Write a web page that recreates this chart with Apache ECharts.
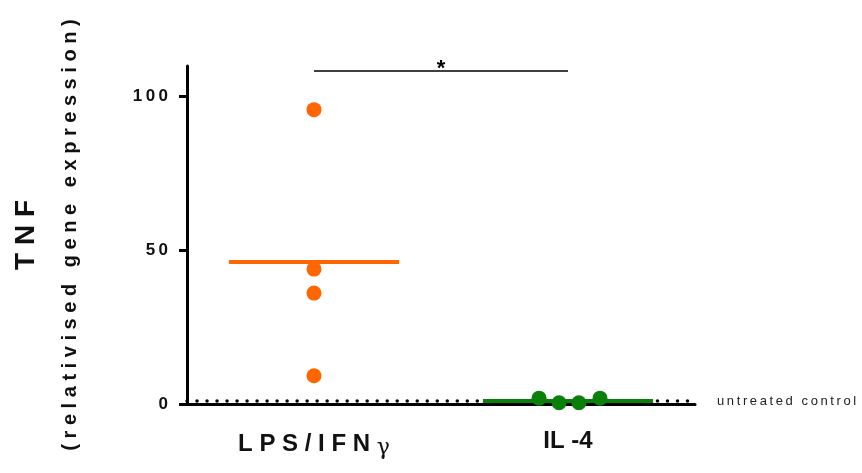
<!DOCTYPE html>
<html>
<head>
<meta charset="utf-8">
<script src="https://cdn.jsdelivr.net/npm/echarts@6/dist/echarts.min.js"></script>
<style>html,body{margin:0;padding:0;background:#fff}#c{width:862px;height:473px}</style>
</head>
<body>
<div id="c"></div>
<script>
var categories = ['LPS/IFN\u03b3', 'IL-4'];
var lpsValues = [95.8, 43.9, 36.1, 9.2];
var lpsJitter = [0, 0, 0, 0];
var il4Values = [1.9, 0.4, 0.4, 1.9];
var il4Jitter = [-0.114, -0.035, 0.043, 0.126];
var yTicks = [0, 50, 100];
var controlLevel = 1;
var sigLevel = 108.5;
var sigText = '*';
var controlText = 'untreated control';
var yTitle = 'TNF';
var ySubtitle = '(relativised gene expression)';

function mean(a){ return a.reduce(function(s,v){return s+v;},0)/a.length; }
function pts(vals, jit, idx){ return vals.map(function(v,i){ return [idx + jit[i], v]; }); }
// letter-spaced rendering of a string (sep between characters)
function spaced(s, sep){ return s.split('').join(sep); }
var THIN = '\u2009';

var FONT = 'Liberation Sans, Arial, sans-serif';
var half = 0.335;
var chart = echarts.init(document.getElementById('c'));
chart.setOption({
  animation: false,
  grid: { left: 187, right: 167, top: 66, bottom: 69 },
  xAxis: [
    { type: 'category', data: categories, position: 'bottom',
      axisLine: { lineStyle: { color: '#000', width: 3 } },
      axisTick: { show: false },
      axisLabel: { margin: 25, fontFamily: FONT, fontSize: 24, fontWeight: 'bold', color: '#111',
        formatter: function (v) {
          if (v.indexOf('\u03b3') >= 0) {
            return spaced(v.replace('\u03b3', ''), ' ') + ' {g|\u03b3}';
          }
          return v.replace('-', ' -');
        },
        rich: { g: { fontFamily: 'DejaVu Serif, serif', fontSize: 22, fontWeight: 'normal', color: '#111', padding: [8, 0, 0, 0] } } } },
    { type: 'value', min: -0.5, max: 1.5, show: false }
  ],
  yAxis: {
    type: 'value', min: 0, max: 110,
    axisLine: { show: true, onZero: false, lineStyle: { color: '#000', width: 3 } },
    axisTick: { show: true, length: 8, lineStyle: { color: '#000', width: 3 }, customValues: yTicks },
    axisLabel: { margin: 19, padding: [4, 0, 0, 0], fontFamily: FONT, fontSize: 17, fontWeight: 'bold', color: '#111', customValues: yTicks,
      formatter: function (v) { return spaced(String(v), THIN); } },
    splitLine: { show: false },
    name: '{a|' + spaced(yTitle, ' ') + '}\n{b|' + spaced(ySubtitle, ' ') + '}',
    nameLocation: 'middle', nameRotate: 90, nameGap: 99,
    nameTextStyle: { fontFamily: FONT, color: '#111',
      rich: { a: { fontSize: 28, fontWeight: 'bold', lineHeight: 52, fontFamily: FONT, color: '#111' },
              b: { fontSize: 20, fontWeight: 'bold', lineHeight: 36, fontFamily: FONT, color: '#111' } } }
  },
  series: [
    { type: 'scatter', xAxisIndex: 1, data: pts(il4Values, il4Jitter, 1), symbolSize: 15,
      itemStyle: { color: '#0a800a', opacity: 1 }, z: 6,
      markLine: { symbol: 'none', silent: true, z: 4,
        lineStyle: { color: '#0a800a', width: 4, type: 'solid' }, label: { show: false },
        data: [[{ coord: [1 - half, mean(il4Values)] }, { coord: [1 + half, mean(il4Values)] }]] } },
    { type: 'scatter', xAxisIndex: 1, data: pts(lpsValues, lpsJitter, 0), symbolSize: 15,
      itemStyle: { color: '#ff6600', opacity: 1 }, z: 6,
      markLine: { symbol: 'none', silent: true, z: 4,
        lineStyle: { color: '#ff6600', width: 4, type: 'solid' }, label: { show: false },
        data: [[{ coord: [0 - half, mean(lpsValues)] }, { coord: [0 + half, mean(lpsValues)] }]] } },
    { type: 'line', xAxisIndex: 1, data: [], z: 1,
      markLine: { symbol: 'none', silent: true, z: 2,
        data: [
          { yAxis: controlLevel, lineStyle: { color: '#000', width: 3.5, type: [0.01, 10], cap: 'round' },
            label: { show: true, position: 'end', distance: 22, formatter: spaced(controlText, THIN),
              fontFamily: FONT, fontSize: 13, color: '#222' } },
          [{ coord: [0, sigLevel], lineStyle: { color: '#000', width: 1.5, type: 'solid' },
             label: { show: true, position: 'middle', formatter: sigText, distance: -9,
               fontFamily: FONT, fontSize: 22, fontWeight: 'bold', color: '#000' } },
           { coord: [1, sigLevel] }]
        ] } }
  ]
});
</script>
</body>
</html>
